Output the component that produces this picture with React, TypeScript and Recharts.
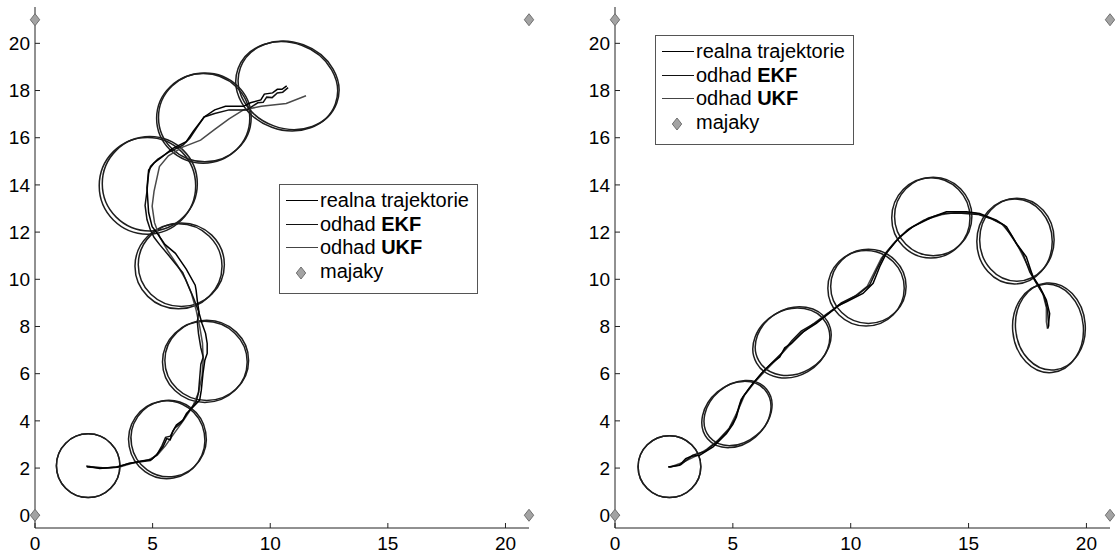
import React from 'react';
import {
    ScatterChart, Scatter, XAxis, YAxis, ReferenceArea,
} from 'recharts';

// beacons (majaky) - same in both panels
const beacons = [
    { x: 0, y: 0 }, { x: 0, y: 21 }, { x: 21, y: 0 }, { x: 21, y: 21 },
];

const xTicks = [0, 5, 10, 15, 20];
const yTicks = [0, 2, 4, 6, 8, 10, 12, 14, 16, 18, 20];

const toPts = (arr: number[][]) => arr.map(([x, y]) => ({ x, y }));

// left panel trajectories
const realLeft = toPts([
    [2.18, 2.09], [2.75, 1.98], [3.46, 2.05], [3.88, 2.16], [4.45, 2.29], [4.95, 2.36], [5.16, 2.54],
    [5.44, 2.9], [5.6, 3.25], [5.75, 3.2], [5.85, 3.55], [6.01, 3.82], [6.29, 4.03], [6.44, 4.31],
    [6.72, 4.59], [7.0, 4.88], [7.07, 5.3], [7.14, 6.0], [7.22, 6.57], [7.32, 6.86], [7.32, 7.28],
    [7.25, 7.71], [7.1, 8.13], [6.98, 8.55], [6.9, 9.1], [6.85, 9.53], [6.81, 9.75], [6.43, 10.43],
    [5.97, 11.1], [5.52, 11.48], [5.21, 11.93], [4.98, 12.23], [4.83, 12.83], [4.76, 13.88],
    [4.83, 14.63], [5.06, 14.93], [5.36, 15.15], [5.82, 15.53], [6.43, 15.83], [6.73, 16.28],
    [7.19, 16.88], [7.64, 17.18], [8.1, 17.33], [8.86, 17.33], [9.16, 17.48], [9.6, 17.6],
    [9.75, 17.85], [10.1, 17.9], [10.3, 18.05], [10.5, 18.05], [10.7, 18.2],
]);
const ekfLeft = toPts([
    [2.2, 2.05], [2.9, 2.0], [3.5, 2.03], [4.0, 2.2], [4.5, 2.27], [4.9, 2.32], [5.2, 2.6], [5.4, 2.95],
    [5.55, 3.3], [5.75, 3.35], [5.95, 3.7], [6.2, 3.9], [6.4, 4.2], [6.6, 4.5], [6.85, 4.8], [6.95, 5.2],
    [7.0, 5.8], [7.05, 6.4], [7.15, 6.7], [7.05, 7.1], [6.95, 7.7], [6.9, 8.2], [6.96, 8.63],
    [6.73, 9.23], [6.28, 10.28], [5.67, 11.03], [5.29, 11.48], [5.06, 11.78], [4.91, 12.08],
    [4.76, 12.53], [4.68, 13.13], [4.76, 13.73], [4.83, 14.48], [4.91, 14.78], [5.21, 15.08],
    [5.67, 15.38], [6.28, 15.68], [6.58, 15.98], [6.88, 16.43], [7.19, 16.88], [7.64, 17.03],
    [8.25, 17.18], [9.01, 17.18], [9.47, 17.48], [9.7, 17.5], [9.85, 17.72], [10.08, 17.7],
    [10.3, 17.9], [10.53, 17.93], [10.76, 18.12],
]);
const ukfLeft = toPts([
    [2.3, 2.07], [3.0, 2.0], [3.6, 2.05], [4.2, 2.22], [4.8, 2.34], [5.2, 2.55], [5.55, 2.95], [5.9, 3.45],
    [6.3, 4.0], [6.7, 4.6], [6.95, 5.2], [7.1, 5.9], [7.15, 6.6], [7.12, 7.3], [7.0, 8.0], [6.85, 8.7],
    [6.65, 9.4], [6.4, 10.0], [6.05, 10.6], [5.65, 11.2], [5.3, 11.8], [5.08, 12.4], [4.98, 13.1],
    [5.06, 13.73], [5.29, 14.78], [5.67, 15.23], [6.28, 15.6], [7.04, 15.9], [7.64, 16.35],
    [8.25, 16.8], [8.86, 17.18], [9.62, 17.33], [10.68, 17.45], [11.52, 17.78],
]);

// right panel trajectories
const realRight = toPts([
    [2.25, 2.05], [2.74, 2.12], [3.0, 2.4], [3.24, 2.5], [3.59, 2.54], [4.16, 2.9], [4.73, 3.46],
    [5.0, 3.85], [5.15, 4.17], [5.3, 4.7], [5.43, 5.02], [5.85, 5.58], [6.28, 6.08], [6.6, 6.4],
    [6.99, 6.71], [7.2, 7.1], [7.48, 7.28], [7.98, 7.77], [8.54, 8.13], [9.25, 8.69], [9.5, 8.9],
    [9.82, 9.05], [10.52, 9.4], [10.95, 9.83], [11.1, 10.2], [11.23, 10.53], [11.51, 11.1],
    [12.08, 11.8], [12.64, 12.23], [13.49, 12.65], [14.06, 12.86], [14.91, 12.86], [15.47, 12.79],
    [16.18, 12.51], [16.61, 12.23], [17.03, 11.52], [17.45, 10.95], [17.73, 10.11], [18.02, 9.68],
    [18.3, 9.12], [18.44, 8.55], [18.37, 7.92],
]);
const ekfRight = toPts([
    [2.3, 2.03], [2.8, 2.15], [3.3, 2.55], [3.8, 2.7], [4.3, 3.1], [4.8, 3.6], [5.1, 4.1], [5.35, 4.9],
    [5.7, 5.4], [6.2, 6.0], [6.7, 6.5], [7.1, 6.9], [7.5, 7.4], [7.9, 7.8], [8.5, 8.15], [9.1, 8.6],
    [9.6, 9.0], [10.3, 9.35], [10.8, 9.75], [11.1, 10.4], [11.4, 11.0], [11.9, 11.6], [12.5, 12.15],
    [13.3, 12.6], [14.0, 12.8], [14.7, 12.8], [15.4, 12.75], [16.0, 12.55], [16.5, 12.3], [16.9, 11.7],
    [17.3, 11.1], [17.6, 10.3], [17.9, 9.8], [18.2, 9.3], [18.35, 8.7], [18.4, 8.0],
]);
const ukfRight = toPts([
    [2.35, 2.05], [2.9, 2.25], [3.4, 2.5], [3.9, 2.8], [4.4, 3.2], [4.85, 3.7], [5.2, 4.4], [5.5, 5.1],
    [5.9, 5.6], [6.4, 6.15], [6.9, 6.65], [7.4, 7.2], [7.9, 7.7], [8.4, 8.1], [9.0, 8.55], [9.6, 8.95],
    [10.2, 9.3], [10.7, 9.7], [11.0, 10.3], [11.3, 10.9], [11.8, 11.5], [12.4, 12.1], [13.1, 12.5],
    [13.9, 12.75], [14.6, 12.85], [15.3, 12.8], [15.9, 12.6], [16.4, 12.35], [16.8, 11.9],
    [17.15, 11.3], [17.5, 10.6], [17.85, 9.9], [18.15, 9.4], [18.3, 8.8], [18.3, 8.2], [18.35, 7.9],
]);

// covariance ellipses: [cx, cy, semi-axis x, semi-axis y, angle deg]
const ekfEllLeft = [
    [2.26, 2.1, 1.35, 1.35, 0], [5.6, 3.2, 1.62, 1.65, 10], [7.22, 6.5, 1.8, 1.72, 0],
    [6.1, 10.55, 1.85, 1.8, 0], [4.78, 13.96, 2.05, 2.05, 0], [7.15, 16.82, 1.98, 1.9, 0],
    [10.7, 18.18, 2.2, 1.85, -20],
];
const ukfEllLeft = [
    [2.26, 2.1, 1.35, 1.35, 0], [5.68, 3.25, 1.6, 1.62, 10], [7.3, 6.56, 1.78, 1.7, 0],
    [6.22, 10.62, 1.83, 1.77, 0], [4.88, 14.05, 2.02, 2.0, 0], [7.22, 16.86, 1.97, 1.88, 0],
    [10.78, 18.22, 2.18, 1.83, -20],
];
const ekfEllRight = [
    [2.31, 2.06, 1.33, 1.31, 0], [5.15, 4.27, 1.6, 1.25, 40], [7.48, 7.3, 1.7, 1.4, 30],
    [10.65, 9.62, 1.62, 1.6, 0], [13.4, 12.6, 1.66, 1.7, 0], [16.95, 11.6, 1.6, 1.8, 0],
    [18.37, 7.92, 1.5, 1.88, 5],
];
const ukfEllRight = [
    [2.31, 2.06, 1.33, 1.31, 0], [5.22, 4.33, 1.58, 1.22, 40], [7.56, 7.38, 1.68, 1.37, 30],
    [10.75, 9.7, 1.6, 1.57, 0], [13.5, 12.66, 1.64, 1.66, 0], [17.05, 11.68, 1.58, 1.76, 0],
    [18.47, 8.0, 1.48, 1.85, 5],
];

const FONT = '"Liberation Sans", Arial, Helvetica, sans-serif';
const AXIS = '#222';

const nothing = () => <g />;

const diamond = (p: any) => {
    const { cx, cy } = p;
    return (
        <polygon
            points={`${cx},${cy - 6} ${cx + 4.7},${cy} ${cx},${cy + 6} ${cx - 4.7},${cy}`}
            fill="#a3a3a3"
            stroke="#707070"
            strokeWidth={1}
        />
    );
};

const ellipseShape = (angle: number) => (p: any) => {
    const cx = p.x + p.width / 2;
    const cy = p.y + p.height / 2;
    return (
        <ellipse
            cx={cx}
            cy={cy}
            rx={Math.abs(p.width) / 2}
            ry={Math.abs(p.height) / 2}
            transform={`rotate(${-angle} ${cx} ${cy})`}
            fill="none"
            stroke="#1e1e1e"
            strokeWidth={1.5}
        />
    );
};

const renderEllipses = (list: number[][], key: string) => list.map(([cx, cy, a, b, ang], i) => (
    <ReferenceArea
        key={`${key}${i}`}
        x1={cx - a}
        x2={cx + a}
        y1={cy - b}
        y2={cy + b}
        ifOverflow="visible"
        shape={ellipseShape(ang)}
    />
));

interface PanelProps {
    width: number;
    marginLeft: number;
    marginRight: number;
    real: { x: number; y: number }[];
    ekf: { x: number; y: number }[];
    ukf: { x: number; y: number }[];
    ekfEll: number[][];
    ukfEll: number[][];
    legendLeft: number;
    legendTop: number;
}

const LegendBox = ({ left, top }: { left: number; top: number }) => {
    const rows = [
        { label: <>realna trajektorie</>, color: '#000' },
        { label: <>odhad <b>EKF</b></>, color: '#111' },
        { label: <>odhad <b>UKF</b></>, color: '#444' },
    ];
    const rowTop = (i: number) => 3.5 + i * 23.7;
    return (
        <div
            style={{
                position: 'absolute', left, top, width: 199, height: 110, boxSizing: 'border-box',
                border: '1px solid #555', background: '#fff', fontFamily: FONT, fontSize: 20, color: '#000',
            }}
        >
            {rows.map((r, i) => (
                <div
                    key={i}
                    style={{
                        position: 'absolute', left: 0, top: rowTop(i), height: 24, display: 'flex', alignItems: 'center', whiteSpace: 'nowrap',
                    }}
                >
                    <span style={{ display: 'inline-block', width: 32, marginLeft: 6, borderTop: `1.5px solid ${r.color}` }} />
                    <span style={{ marginLeft: 2 }}>{r.label}</span>
                </div>
            ))}
            <div
                style={{
                    position: 'absolute', left: 0, top: rowTop(3), height: 24, display: 'flex', alignItems: 'center',
                }}
            >
                <svg width={38} height={24}>
                    <polygon points="21,7 25.7,13 21,19 16.3,13" fill="#a3a3a3" stroke="#707070" strokeWidth={1} />
                </svg>
                <span style={{ marginLeft: 2 }}>majaky</span>
            </div>
        </div>
    );
};

const Panel = (props: PanelProps) => {
    const {
        width, marginLeft, marginRight, real, ekf, ukf, ekfEll, ukfEll, legendLeft, legendTop,
    } = props;
    return (
        <div style={{ position: 'relative', width, height: 555 }}>
            <ScatterChart
                width={width}
                height={555}
                margin={{
                    top: 7, right: marginRight, bottom: 0, left: marginLeft,
                }}
            >
                <XAxis
                    type="number"
                    dataKey="x"
                    domain={[0, 21]}
                    ticks={xTicks}
                    height={27}
                    tickSize={-5}
                    tickMargin={14}
                    axisLine={{ stroke: AXIS }}
                    tickLine={{ stroke: AXIS }}
                    tick={{ fill: '#000', fontSize: 19, fontFamily: FONT }}
                />
                <YAxis
                    type="number"
                    dataKey="y"
                    domain={[-0.54, 21.54]}
                    ticks={yTicks}
                    width={35}
                    tickSize={-5}
                    tickMargin={10}
                    axisLine={{ stroke: AXIS }}
                    tickLine={{ stroke: AXIS }}
                    tick={{ fill: '#000', fontSize: 19, fontFamily: FONT }}
                />
                {renderEllipses(ekfEll, 'e')}
                {renderEllipses(ukfEll, 'u')}
                <Scatter data={ukf} line={{ stroke: '#4a4a4a', strokeWidth: 1.5 }} shape={nothing} isAnimationActive={false} />
                <Scatter data={ekf} line={{ stroke: '#111', strokeWidth: 1.5 }} shape={nothing} isAnimationActive={false} />
                <Scatter data={real} line={{ stroke: '#000', strokeWidth: 1.5 }} shape={nothing} isAnimationActive={false} />
                <Scatter data={beacons} shape={diamond} isAnimationActive={false} />
            </ScatterChart>
            <LegendBox left={legendLeft} top={legendTop} />
        </div>
    );
};

export default function App() {
    return (
        <div style={{ display: 'flex', width: 1115, height: 555, background: '#fff' }}>
            <style>{'body{margin:0;background:#fff}'}</style>
            <Panel
                width={557}
                marginLeft={0}
                marginRight={28}
                real={realLeft}
                ekf={ekfLeft}
                ukf={ukfLeft}
                ekfEll={ekfEllLeft}
                ukfEll={ukfEllLeft}
                legendLeft={279}
                legendTop={184}
            />
            <Panel
                width={558}
                marginLeft={23}
                marginRight={5}
                real={realRight}
                ekf={ekfRight}
                ukf={ukfRight}
                ekfEll={ekfEllRight}
                ukfEll={ukfEllRight}
                legendLeft={655 - 557}
                legendTop={35}
            />
        </div>
    );
}
